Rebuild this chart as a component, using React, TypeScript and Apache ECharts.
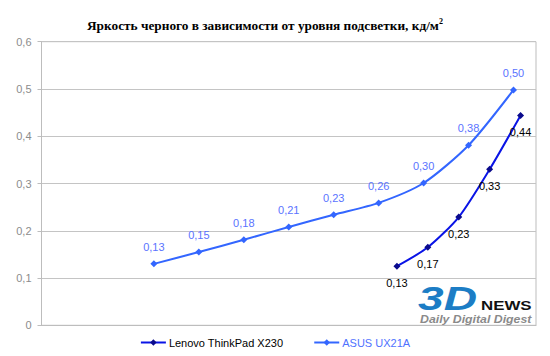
import React, { useEffect, useRef } from "react";
import * as echarts from "echarts";

const titleText = "Яркость черного в зависимости от уровня подсветки, кд/м";
const titleSup = "2";

const asusCategories = ["1", "2", "3", "4", "5", "6", "7", "8", "9", "10", "11"];
const asusValues = [null, null, 0.13, 0.155, 0.181, 0.208, 0.234, 0.259, 0.301, 0.381, 0.498];

const lenovoCategories = ["1", "2", "3", "4", "5", "6", "7", "8", "9", "10", "11", "12", "13", "14", "15", "16"];
const lenovoValues = [null, null, null, null, null, null, null, null, null, null, null, 0.125, 0.165, 0.229, 0.33, 0.444];

const seriesNames = ["Lenovo ThinkPad X230", "ASUS UX21A"];
const yTicks = { min: 0, max: 0.6, interval: 0.1 };

const fmt = (v: number) => v.toFixed(2).replace(".", ",");

export default function App() {
  const ref = useRef<HTMLDivElement>(null);
  useEffect(() => {
    if (!ref.current) return;
    const chart = echarts.init(ref.current, null, { renderer: "svg" });
    const sans = "'Liberation Sans', Arial, sans-serif";
    chart.setOption({
      animation: false,
      backgroundColor: "#ffffff",
      title: {
        text: `{a|${titleText}}{s|${titleSup}}`,
        left: 82,
        top: 12,
        textStyle: {
          rich: {
            a: {
              fontFamily: "'Liberation Serif', 'DejaVu Serif', serif",
              fontWeight: "bold",
              fontSize: 13.3,
              color: "#000",
            },
            s: {
              fontFamily: "'Liberation Serif', 'DejaVu Serif', serif",
              fontWeight: "bold",
              fontSize: 8,
              color: "#000",
              padding: [0, 0, 9, 0],
            },
          },
        },
      },
      grid: {
        left: 41.5,
        right: 14,
        top: 41.7,
        bottom: 30.7,
        show: true,
        borderColor: "#bdbdbd",
        borderWidth: 1,
      },
      legend: {
        bottom: 3,
        left: "center",
        itemWidth: 25,
        itemHeight: 8,
        itemGap: 30,
        data: [
          { name: seriesNames[0], textStyle: { color: "#000" } },
          { name: seriesNames[1], textStyle: { color: "#4f72ff" } },
        ],
        textStyle: { fontFamily: sans, fontSize: 11, padding: [0, 0, 0, -2] },
      },
      xAxis: [
        {
          type: "category",
          data: asusCategories,
          boundaryGap: true,
          axisLine: { show: true, lineStyle: { color: "#bdbdbd" } },
          axisTick: { show: false },
          axisLabel: { show: false },
          splitLine: { show: false },
        },
        {
          type: "category",
          data: lenovoCategories,
          boundaryGap: true,
          position: "bottom",
          show: false,
        },
      ],
      yAxis: {
        type: "value",
        min: yTicks.min,
        max: yTicks.max,
        interval: yTicks.interval,
        axisLine: { show: true, lineStyle: { color: "#bdbdbd" } },
        axisTick: { show: true, length: 4, lineStyle: { color: "#bdbdbd" } },
        axisLabel: {
          color: "#8c8c8c",
          fontFamily: sans,
          fontSize: 11,
          margin: 10,
          formatter: (v: number) => (v === 0 ? "0" : String(Math.round(v * 10) / 10).replace(".", ",")),
        },
        splitLine: { show: true, lineStyle: { color: "#c4c4c4", width: 1 } },
      },
      series: [
        {
          name: seriesNames[0],
          type: "line",
          xAxisIndex: 1,
          data: lenovoValues,
          smooth: 0.25,
          symbol: "diamond",
          symbolSize: 7,
          lineStyle: { color: "#0a14e6", width: 2 },
          itemStyle: { color: "#0a0a8c" },
          label: {
            show: true,
            position: "bottom",
            distance: 8,
            color: "#000",
            fontFamily: sans,
            fontSize: 11,
            formatter: (p: any) => fmt(p.value),
          },
        },
        {
          name: seriesNames[1],
          type: "line",
          xAxisIndex: 0,
          data: asusValues,
          smooth: 0.25,
          symbol: "diamond",
          symbolSize: 7,
          lineStyle: { color: "#3366ff", width: 2 },
          itemStyle: { color: "#3366ff" },
          label: {
            show: true,
            position: "top",
            distance: 8,
            color: "#5a73ff",
            fontFamily: sans,
            fontSize: 11,
            formatter: (p: any) => fmt(p.value),
          },
        },
      ],
      graphic: [
        {
          type: "text",
          x: 418,
          y: 282,
          scaleX: 1.4,
          style: {
            text: "3D",
            fontFamily: sans,
            fontWeight: "bold",
            fontStyle: "italic",
            fontSize: 33,
            fill: "#1c7dc5",
          },
        },
        {
          type: "text",
          x: 481,
          y: 299,
          scaleX: 1.35,
          style: {
            text: "NEWS",
            fontFamily: sans,
            fontWeight: "bold",
            fontSize: 12.5,
            fill: "#111",
          },
        },
        {
          type: "text",
          x: 420,
          y: 313,
          scaleX: 1.12,
          style: {
            text: "Daily Digital Digest",
            fontFamily: sans,
            fontWeight: "bold",
            fontStyle: "italic",
            fontSize: 11,
            fill: "#8a8a8a",
          },
        },
      ],
    });
    return () => chart.dispose();
  }, []);
  return (
    <div
      ref={ref}
      style={{ position: "fixed", left: 0, top: 0, width: 550, height: 356 }}
    />
  );
}
